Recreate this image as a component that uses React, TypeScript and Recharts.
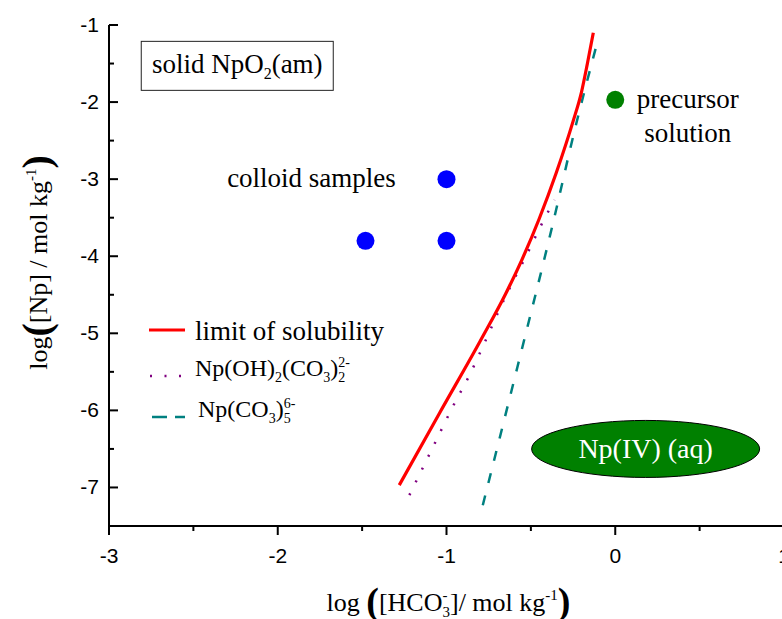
import React from 'react';
import { ComposedChart, Line, Scatter, XAxis, YAxis, Legend } from 'recharts';

// axis ticks (majors are labelled, halves are minor)
const xTicks = [-3, -2.5, -2, -1.5, -1, -0.5, 0, 0.5, 1];
const yTicks = [-1, -1.5, -2, -2.5, -3, -3.5, -4, -4.5, -5, -5.5, -6, -6.5, -7];

// curves
const solubilityLimit = [
  { x: -1.28, y: -6.97 },
  { x: -1.04, y: -6.03 },
  { x: -0.8, y: -5.1 },
  { x: -0.65, y: -4.49 },
  { x: -0.55, y: -4.03 },
  { x: -0.45, y: -3.51 },
  { x: -0.35, y: -2.92 },
  { x: -0.25, y: -2.25 },
  { x: -0.2, y: -1.87 },
  { x: -0.165, y: -1.5 },
  { x: -0.13, y: -1.1 },
];

const hydroxoCarbonate = [
  { x: -1.22, y: -7.1 },
  { x: -1.07, y: -6.43 },
  { x: -0.96, y: -5.94 },
  { x: -0.87, y: -5.57 },
  { x: -0.78, y: -5.15 },
  { x: -0.68, y: -4.66 },
  { x: -0.6, y: -4.3 },
  { x: -0.52, y: -3.96 },
  { x: -0.44, y: -3.6 },
  { x: -0.36, y: -3.27 },
];

const pentaCarbonate = [
  { x: -0.785, y: -7.23 },
  { x: -0.58, y: -5.44 },
  { x: -0.37, y: -3.58 },
  { x: -0.24, y: -2.36 },
  { x: -0.107, y: -1.23 },
];

// measured points
const colloidSamples = [
  { x: -1, y: -3 },
  { x: -1, y: -3.8 },
  { x: -1.48, y: -3.8 },
];
const precursorSolution = [{ x: 0, y: -1.97 }];

// annotation anchors (data coordinates)
const solidPhaseLabel = [{ x: -2.24, y: -1.53 }];
const colloidLabel = [{ x: -2.3, y: -3.1 }];
const precursorLabel = [{ x: 0.43, y: -2.08 }];
const aqueousRegion = [{ x: 0.18, y: -6.5 }];

const SANS = '"Liberation Sans", Arial, sans-serif';
const SERIF = '"Liberation Serif", "Times New Roman", serif';

const isMajor = (v: number) => Number.isInteger(v);

const BottomTick = ({ x, y, payload }: any) => {
  const major = isMajor(payload.value);
  return (
    <g>
      <line x1={x} y1={y} x2={x} y2={y + (major ? 9 : 5)} stroke="#000" strokeWidth={2} />
      {major && (
        <text x={x} y={y + 37} textAnchor="middle" fontFamily={SANS} fontSize={21} fill="#000">
          {payload.value}
        </text>
      )}
    </g>
  );
};

const LeftTick = ({ x, y, payload }: any) => {
  const major = isMajor(payload.value);
  return (
    <g>
      <line x1={x} y1={y} x2={x + (major ? 9 : 5)} y2={y} stroke="#000" strokeWidth={2} />
      {major && (
        <text x={x - 10} y={y + 7} textAnchor="end" fontFamily={SANS} fontSize={21} fill="#000">
          {payload.value}
        </text>
      )}
    </g>
  );
};

const TopTick = ({ x, y, payload }: any) => (
  <line x1={x} y1={y} x2={x} y2={y + (isMajor(payload.value) ? 9 : 5)} stroke="#000" strokeWidth={2} />
);

const RightTick = ({ x, y, payload }: any) => (
  <line x1={x} y1={y} x2={x - (isMajor(payload.value) ? 9 : 5)} y2={y} stroke="#000" strokeWidth={2} />
);

const XTitle = ({ viewBox }: any) => {
  const cx = viewBox.x + viewBox.width / 2 + 2;
  const by = viewBox.y + 85;
  return (
    <text x={cx} y={by} textAnchor="middle" fontFamily={SERIF} fontSize={26} fill="#000">
      log{' '}
      <tspan fontSize={38} fontWeight="bold" dy={3}>(</tspan>
      <tspan dy={-3}>[HCO</tspan>
      <tspan fontSize={15} dy={-11}>-</tspan>
      <tspan fontSize={15} dx={-5} dy={17}>3</tspan>
      <tspan dy={-6}>]/ mol kg</tspan>
      <tspan fontSize={15} dy={-11}>-1</tspan>
      <tspan fontSize={38} fontWeight="bold" dy={14}>)</tspan>
    </text>
  );
};

const YTitle = ({ viewBox }: any) => {
  const tx = viewBox.x + 47;
  const ty = viewBox.y + viewBox.height / 2 - 13;
  return (
    <text transform={`translate(${tx},${ty}) rotate(-90)`} textAnchor="middle" fontFamily={SERIF} fontSize={26} fill="#000">
      log
      <tspan fontSize={40} fontWeight="bold" dy={3}>(</tspan>
      <tspan dy={-3}>[Np] / mol kg</tspan>
      <tspan fontSize={15} dy={-11}>-1</tspan>
      <tspan fontSize={40} fontWeight="bold" dy={14}>)</tspan>
    </text>
  );
};

const LegendBox = () => (
  <svg width={260} height={130} style={{ display: 'block' }}>
    <line x1={9} y1={30} x2={45} y2={30} stroke="#ff0000" strokeWidth={3} />
    <text x={55} y={40} fontFamily={SERIF} fontSize={27} fill="#000">limit of solubility</text>

    <line x1={10} y1={76} x2={42} y2={76} stroke="#800080" strokeWidth={2.5} strokeDasharray="2 12.5" />
    <text x={55} y={76} fontFamily={SERIF} fontSize={24} fill="#000">
      Np(OH)<tspan fontSize={14} dy={6}>2</tspan>
      <tspan dy={-6}>(CO</tspan>
      <tspan fontSize={14} dy={6}>3</tspan>
      <tspan dy={-6}>)</tspan>
      <tspan fontSize={14} dy={6}>2</tspan>
      <tspan fontSize={14} dx={-7} dy={-15}>2-</tspan>
    </text>

    <line x1={12} y1={117} x2={45} y2={117} stroke="#008080" strokeWidth={2.5} strokeDasharray="15 8" />
    <text x={58} y={117} fontFamily={SERIF} fontSize={24} fill="#000">
      Np(CO<tspan fontSize={14} dy={6}>3</tspan>
      <tspan dy={-6}>)</tspan>
      <tspan fontSize={14} dy={6}>5</tspan>
      <tspan fontSize={14} dx={-7} dy={-15}>6-</tspan>
    </text>
  </svg>
);

const dotShape = (fill: string) => (p: any) => <circle cx={p.cx} cy={p.cy} r={9} fill={fill} />;

const SolidBox = ({ cx, cy }: any) => (
  <g>
    <rect x={cx - 96} y={cy - 24.5} width={192} height={49} fill="#fff" stroke="#222" strokeWidth={1} />
    <text x={cx} y={cy + 7} textAnchor="middle" fontFamily={SERIF} fontSize={27} fill="#000">
      solid NpO<tspan fontSize={16} dy={6}>2</tspan>
      <tspan dy={-6}>(am)</tspan>
    </text>
  </g>
);

const ColloidText = ({ cx, cy }: any) => (
  <text x={cx} y={cy} fontFamily={SERIF} fontSize={27} fill="#000">colloid samples</text>
);

const PrecursorText = ({ cx, cy }: any) => (
  <text x={cx} y={cy} textAnchor="middle" fontFamily={SERIF} fontSize={27} fill="#000">
    <tspan x={cx}>precursor</tspan>
    <tspan x={cx} dy={34}>solution</tspan>
  </text>
);

const AqueousEllipse = ({ cx, cy }: any) => (
  <g>
    <ellipse cx={cx} cy={cy} rx={114} ry={28.5} fill="#008000" stroke="#000" strokeWidth={1} />
    <text x={cx} y={cy + 9} textAnchor="middle" fontFamily={SERIF} fontSize={28} fill="#ffffff">Np(IV) (aq)</text>
  </g>
);

export default function App() {
  return (
    <div style={{ position: 'absolute', left: 0, top: 0, width: 782, height: 619, overflow: 'hidden', background: '#fff' }}>
      <ComposedChart width={840} height={619} margin={{ top: 25, right: 56, bottom: 0, left: 0 }}>
        <XAxis
          dataKey="x"
          type="number"
          domain={[-3, 1]}
          ticks={xTicks}
          interval={0}
          height={93}
          axisLine={{ stroke: '#000', strokeWidth: 2 }}
          tickLine={false}
          tickSize={0}
          tickMargin={0}
          tick={<BottomTick />}
          label={{ content: (p: any) => <XTitle {...p} /> }}
        />
        <XAxis
          xAxisId="top"
          orientation="top"
          dataKey="x"
          type="number"
          domain={[-3, 1]}
          ticks={xTicks}
          interval={0}
          height={0}
          axisLine={{ stroke: '#000', strokeWidth: 2 }}
          tickLine={false}
          tickSize={0}
          tickMargin={0}
          tick={<TopTick />}
        />
        <YAxis
          dataKey="y"
          type="number"
          domain={[-7.5, -1]}
          ticks={yTicks}
          interval={0}
          width={109}
          axisLine={{ stroke: '#000', strokeWidth: 2 }}
          tickLine={false}
          tickSize={0}
          tickMargin={0}
          tick={<LeftTick />}
          label={{ content: (p: any) => <YTitle {...p} /> }}
        />
        <YAxis
          yAxisId="right"
          orientation="right"
          dataKey="y"
          type="number"
          domain={[-7.5, -1]}
          ticks={yTicks}
          interval={0}
          width={0}
          axisLine={{ stroke: '#000', strokeWidth: 2 }}
          tickLine={false}
          tickSize={0}
          tickMargin={0}
          tick={<RightTick />}
        />
        <Legend
          layout="vertical"
          align="center"
          verticalAlign="middle"
          content={() => <LegendBox />}
          wrapperStyle={{ left: 140, top: 300, width: 260, height: 130 }}
        />

        <Scatter data={aqueousRegion} shape={(p: any) => <AqueousEllipse {...p} />} isAnimationActive={false} />
        <Scatter data={solidPhaseLabel} shape={(p: any) => <SolidBox {...p} />} isAnimationActive={false} />
        <Scatter data={colloidLabel} shape={(p: any) => <ColloidText {...p} />} isAnimationActive={false} />
        <Scatter data={precursorLabel} shape={(p: any) => <PrecursorText {...p} />} isAnimationActive={false} />

        <Line
          data={pentaCarbonate}
          dataKey="y"
          type="monotone"
          stroke="#008080"
          strokeWidth={2.5}
          strokeDasharray="10 13"
          dot={false}
          activeDot={false}
          isAnimationActive={false}
        />
        <Line
          data={hydroxoCarbonate}
          dataKey="y"
          type="monotone"
          stroke="#800080"
          strokeWidth={2.5}
          strokeDasharray="2 12.3"
          dot={false}
          activeDot={false}
          isAnimationActive={false}
        />
        <Line
          data={solubilityLimit}
          dataKey="y"
          type="monotone"
          stroke="#ff0000"
          strokeWidth={3.2}
          dot={false}
          activeDot={false}
          isAnimationActive={false}
        />

        <Scatter data={colloidSamples} shape={dotShape('#0000ff')} isAnimationActive={false} />
        <Scatter data={precursorSolution} shape={dotShape('#008000')} isAnimationActive={false} />
      </ComposedChart>
    </div>
  );
}
